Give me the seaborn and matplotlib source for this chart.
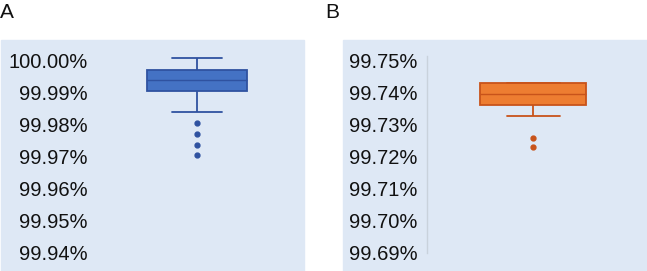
import numpy as np
import pandas as pd
import matplotlib
matplotlib.use("Agg")
import matplotlib.pyplot as plt
import seaborn as sns
from matplotlib.patches import Rectangle
from matplotlib.ticker import FuncFormatter

# values in percent
panel_a = [99.9704, 99.9736, 99.9770, 99.9804, 99.9839,
           99.9905, 99.9912, 99.9920, 99.9926, 99.9932,
           99.9937, 99.9943, 99.9950, 99.9958, 99.9965,
           99.9970, 99.9978, 99.9985, 99.9992, 99.9999,
           100.0005]
panel_b = [99.7228, 99.7257, 99.7326, 99.7340, 99.7352,
           99.7361, 99.7368, 99.7375, 99.7381, 99.7388,
           99.7395, 99.7401, 99.7408, 99.7415, 99.7422,
           99.7429, 99.7429, 99.7429, 99.7429, 99.7429,
           99.7429]
ticks_a = [99.94, 99.95, 99.96, 99.97, 99.98, 99.99, 100.00]
ticks_b = [99.69, 99.70, 99.71, 99.72, 99.73, 99.74, 99.75]

sns.set_style("white")
plt.rcParams["font.family"] = ["Liberation Sans", "DejaVu Sans"]

W, H = 647, 271
fig = plt.figure(figsize=(W / 100, H / 100), dpi=100)
bg = "#dee8f5"

def px(x0, y0, x1, y1):
    return [x0 / W, 1 - y1 / H, (x1 - x0) / W, (y1 - y0) / H]

# light blue panel backgrounds (behind the labels too)
fig.patches.append(Rectangle((1 / W, 0), (304 - 1) / W, 1 - 40 / H,
                             transform=fig.transFigure, color=bg, zorder=-5))
fig.patches.append(Rectangle((343 / W, 0), (647 - 343) / W, 1 - 40 / H,
                             transform=fig.transFigure, color=bg, zorder=-5))

def panel(rect, vals, ticks, face, edge, spine):
    ax = fig.add_axes(rect, zorder=2)
    ax.set_facecolor("none")
    sns.boxplot(y=vals, ax=ax, width=0.5, color=face, saturation=1,
                linewidth=1.3, linecolor=edge,
                medianprops=dict(linewidth=1.0),
                flierprops=dict(marker="o", markersize=3.5,
                                markerfacecolor=edge, markeredgecolor=edge))
    ax.set_ylim(ticks[0], ticks[-1] + 4 * 0.06 / 193)
    ax.set_yticks(ticks)
    ax.yaxis.set_major_formatter(FuncFormatter(lambda v, p: f"{v:.2f}%"))
    ax.tick_params(axis="y", length=0, pad=7, labelsize=14.5, labelcolor="#111111")
    ax.set_xticks([])
    for s in ax.spines.values():
        s.set_visible(False)
    if spine:
        ax.spines["left"].set_visible(True)
        ax.spines["left"].set_color("#c9d2dc")
        ax.spines["left"].set_linewidth(1)
    return ax

panel(px(97, 56, 297, 253), panel_a, ticks_a, "#4472c4", "#2f52a0", False)
panel(px(427, 56, 639, 253), panel_b, ticks_b, "#ed7d31", "#c8531a", True)

fig.text(0 / W, 1 - 18 / H, "A", fontsize=15, color="#111111")
fig.text(325 / W, 1 - 18 / H, "B", fontsize=15, color="#111111")

fig.savefig("out.png", dpi=100)
